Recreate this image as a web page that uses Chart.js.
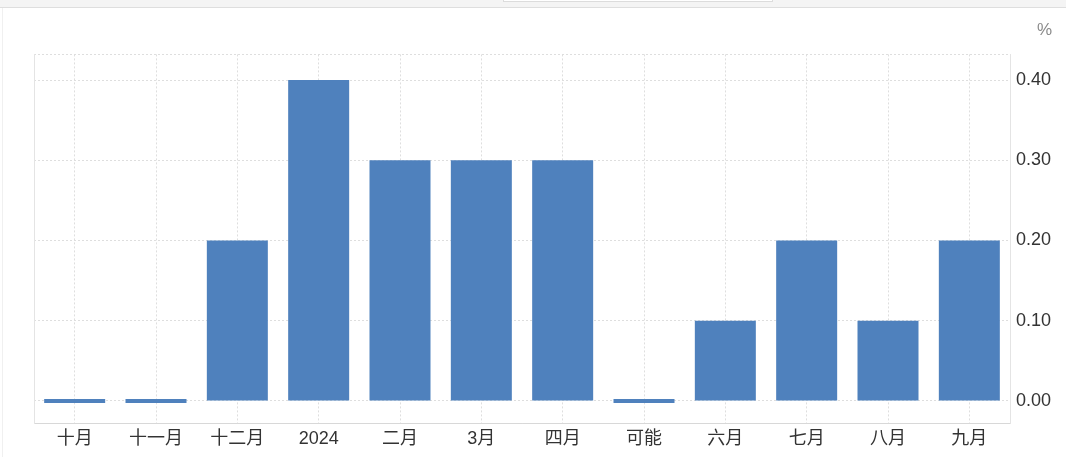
<!DOCTYPE html>
<html lang="zh">
<head>
  <meta charset="UTF-8" />
  <title>月度变化</title>
  <script src="https://cdn.jsdelivr.net/npm/chart.js"></script>
  <style>
    html, body { margin: 0; padding: 0; background: #fff; }
    #wrap { position: relative; width: 1066px; height: 457px; overflow: hidden; }
    #topBand { position: absolute; left: 0; top: 0; width: 1066px; height: 7px; background: #f4f4f4; border-bottom: 1px solid #dedede; }
    #topBox { position: absolute; left: 503px; top: -10px; width: 268px; height: 10px; background: #fff; border: 1px solid #dcdcdc; }
    #cardEdge { position: absolute; left: 2px; top: 8px; width: 1px; height: 449px; background: #f0f0f0; }
  </style>
</head>
<body>
  <div id="wrap">
    <canvas id="grafico" width="1066" height="457"></canvas>
    <div id="topBand"><div id="topBox"></div></div>
    <div id="cardEdge"></div>
  </div>

<script>
  // dados
  var meses = ["十月", "十一月", "十二月", "2024", "二月", "3月", "四月", "可能", "六月", "七月", "八月", "九月"];
  var valores = [0, 0, 0.2, 0.4, 0.3, 0.3, 0.3, 0, 0.1, 0.2, 0.1, 0.2];
  var eixoMin = -0.028;
  var eixoMax = 0.432;
  var passo = 0.1;

  var fonte = "'Liberation Sans', 'Noto Sans CJK SC', Arial, sans-serif";
  var corGrade = "#dedede";

  new Chart(document.getElementById("grafico"), {
    type: "bar",
    data: {
      labels: meses,
      datasets: [
        {
          data: valores,
          backgroundColor: "#4f81bd",
          borderWidth: 0,
          minBarLength: 4,
          barPercentage: 0.75,
          categoryPercentage: 1,
        },
      ],
    },
    options: {
      responsive: false,
      animation: false,
      layout: {
        padding: { left: 34, right: 14, top: 10, bottom: 2 },
      },
      plugins: {
        legend: { display: false },
        tooltip: { enabled: false },
        title: {
          display: true,
          text: "%",
          align: "end",
          color: "#8a8a8a",
          font: { family: fonte, size: 17, weight: "normal" },
          padding: { top: 10, bottom: 14 },
        },
      },
      scales: {
        x: {
          offset: true,
          grid: {
            offset: false,
            drawTicks: false,
            color: corGrade,
          },
          border: { display: true, color: "#d8d8d8", dash: [2, 2] },
          ticks: {
            color: "#333",
            padding: 5,
            font: { family: fonte, size: 18 },
            maxRotation: 0,
            autoSkip: false,
          },
        },
        y: {
          position: "right",
          min: eixoMin,
          max: eixoMax,
          afterFit: function (escala) {
            escala.width = 42;
          },
          grid: {
            drawTicks: false,
            color: corGrade,
          },
          border: { display: true, color: "#e4e4e4", dash: [2, 2] },
          ticks: {
            stepSize: passo,
            includeBounds: true,
            padding: 6,
            color: "#333",
            font: { family: fonte, size: 18 },
            callback: function (v) {
              // os limites do eixo ficam sem rótulo
              if (v === eixoMin || v === eixoMax) return "";
              return Number(v).toFixed(2);
            },
          },
        },
        yEsq: {
          position: "left",
          min: eixoMin,
          max: eixoMax,
          grid: { display: false, drawTicks: false },
          ticks: { display: false },
          border: { display: true, color: "#e4e4e4" },
        },
      },
    },
  });
</script>
</body>
</html>
